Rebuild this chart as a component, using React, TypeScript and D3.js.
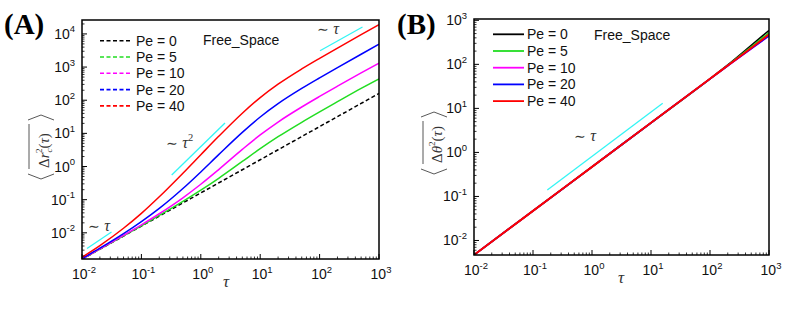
import React from 'react';
import * as d3 from 'd3';

// ---------- DATA ----------
const tauA = [0.01, 0.02, 0.05, 0.1, 0.2, 0.5, 1, 2, 5, 10, 20, 50, 100, 200, 500, 1000];
const msdPe0 = [0.0016, 0.0032, 0.008, 0.016, 0.032, 0.08, 0.16, 0.32, 0.8, 1.6, 3.2, 8, 16, 32, 80, 160];
const msdPe5 = [0.0016, 0.00321, 0.00809, 0.01635, 0.0334, 0.0886, 0.193, 0.442, 1.42, 3.44, 7.91, 21.6, 44.5, 90.1, 227, 440];
const msdPe10 = [0.00161, 0.00326, 0.00836, 0.0174, 0.0376, 0.114, 0.292, 0.809, 3.28, 8.98, 22.0, 62.4, 130, 265, 669, 1320];
const msdPe20 = [0.00166, 0.00343, 0.00942, 0.0217, 0.0544, 0.217, 0.687, 2.28, 10.7, 31.1, 78.6, 226, 471, 962, 2435, 4890];
const msdPe40 = [0.00183, 0.00411, 0.0137, 0.0386, 0.122, 0.628, 2.27, 8.14, 40.5, 120, 305, 879, 1837, 3753, 9501, 19000];

const tauB = [0.01, 0.1, 1, 10, 100, 200, 500, 1000];
const thetaPe0 = [0.0047, 0.047, 0.47, 4.7, 47, 97, 270, 590];
const thetaPe5 = [0.0047, 0.047, 0.47, 4.7, 47, 95, 250, 525];
const thetaPe10 = [0.0047, 0.047, 0.47, 4.7, 47, 93, 225, 440];
const thetaPe20 = [0.0047, 0.047, 0.47, 4.7, 47, 93, 228, 445];
const thetaPe40 = [0.0047, 0.047, 0.47, 4.7, 47, 94, 235, 480];

const peLabels = ['Pe = 0', 'Pe = 5', 'Pe = 10', 'Pe = 20', 'Pe = 40'];
const seriesColors = ['#000000', '#22dd22', '#ff00ff', '#0000ff', '#ff0000'];
const xTickExps = [-2, -1, 0, 1, 2, 3];
const yTickExpsA = [-2, -1, 0, 1, 2, 3, 4];
const yTickExpsB = [-2, -1, 0, 1, 2, 3];

const SANS = 'Liberation Sans, Arial, sans-serif';
const SERIF = 'Liberation Serif, Times New Roman, serif';

type Box = { l: number; r: number; t: number; b: number };

function minorTicks(domain: [number, number]) {
  const out: number[] = [];
  const lo = Math.floor(Math.log10(domain[0]));
  const hi = Math.ceil(Math.log10(domain[1]));
  for (let e = lo; e <= hi; e++) {
    for (let k = 2; k <= 9; k++) {
      const v = k * Math.pow(10, e);
      if (v > domain[0] && v < domain[1]) out.push(v);
    }
  }
  return out;
}

function Axes({ box, x, y, yExps }: any) {
  const xd = x.domain() as [number, number];
  const yd = y.domain() as [number, number];
  return (
    <g>
      {xTickExps.map((e) => {
        const px = x(Math.pow(10, e));
        return (
          <g key={'xt' + e}>
            <line x1={px} x2={px} y1={box.b} y2={box.b - 5} stroke="#000" strokeWidth={1} />
            <text x={px + 2} y={box.b + 20} textAnchor="middle" fontFamily={SANS} fontSize={14} fill="#111">
              10<tspan dy={-6.5} fontSize={9.5}>{e}</tspan>
            </text>
          </g>
        );
      })}
      {minorTicks(xd).map((v, i) => (
        <line key={'xm' + i} x1={x(v)} x2={x(v)} y1={box.b} y2={box.b - 2.5} stroke="#000" strokeWidth={0.8} />
      ))}
      {yExps.map((e: number) => {
        const py = y(Math.pow(10, e));
        return (
          <g key={'yt' + e}>
            <line x1={box.l} x2={box.l + 5} y1={py} y2={py} stroke="#000" strokeWidth={1} />
            <text x={box.l - 7} y={py + 5} textAnchor="end" fontFamily={SANS} fontSize={14} fill="#111">
              10<tspan dy={-6.5} fontSize={9.5}>{e}</tspan>
            </text>
          </g>
        );
      })}
      {minorTicks(yd).map((v, i) => (
        <line key={'ym' + i} x1={box.l} x2={box.l + 2.5} y1={y(v)} y2={y(v)} stroke="#000" strokeWidth={0.8} />
      ))}
      <rect x={box.l} y={box.t} width={box.r - box.l} height={box.b - box.t} fill="none" stroke="#000" strokeWidth={1.5} />
    </g>
  );
}

export default function App() {
  const boxA: Box = { l: 82, r: 379, t: 20, b: 259 };
  const xA = d3.scaleLog().domain([0.01, 1000]).range([boxA.l, boxA.r]);
  const yA = d3.scaleLog().domain([Math.pow(10, -2.79), Math.pow(10, 4.42)]).range([boxA.b, boxA.t]);
  const seriesA = [msdPe0, msdPe5, msdPe10, msdPe20, msdPe40];
  const lineA = d3
    .line<number>()
    .x((_, i) => xA(tauA[i]))
    .y((d) => yA(d))
    .curve(d3.curveMonotoneX);

  const boxB: Box = { l: 474, r: 769, t: 19, b: 255 };
  const xB = d3.scaleLog().domain([0.01, 1000]).range([boxB.l, boxB.r]);
  const yB = d3.scaleLog().domain([Math.pow(10, -2.33), Math.pow(10, 3.03)]).range([boxB.b, boxB.t]);
  const seriesB = [thetaPe0, thetaPe5, thetaPe10, thetaPe20, thetaPe40];
  const lineB = d3
    .line<number>()
    .x((_, i) => xB(tauB[i]))
    .y((d) => yB(d))
    .curve(d3.curveMonotoneX);

  const cyan = '#33f5f5';

  return (
    <svg width={789} height={309} style={{ position: 'absolute', left: 0, top: 0, background: '#fff' }}>
      <defs>
        <clipPath id="clipA">
          <rect x={boxA.l} y={boxA.t} width={boxA.r - boxA.l} height={boxA.b - boxA.t} />
        </clipPath>
        <clipPath id="clipB">
          <rect x={boxB.l} y={boxB.t} width={boxB.r - boxB.l} height={boxB.b - boxB.t} />
        </clipPath>
      </defs>

      {/* ---------- Panel A ---------- */}
      <text x={4} y={34} fontFamily={SERIF} fontWeight="bold" fontSize={29} fill="#000">(A)</text>
      <g clipPath="url(#clipA)">
        {seriesA.map((s, i) => (
          <path
            key={'a' + i}
            d={lineA(s) || ''}
            fill="none"
            stroke={seriesColors[i]}
            strokeWidth={1.5}
            strokeDasharray={i === 0 ? '4,2.5' : undefined}
          />
        ))}
      </g>
      <line x1={87} y1={248.5} x2={111.5} y2={232} stroke={cyan} strokeWidth={1.3} />
      <line x1={171.7} y1={175} x2={225} y2={123} stroke={cyan} strokeWidth={1.3} />
      <line x1={320} y1={50.7} x2={362.5} y2={27} stroke={cyan} strokeWidth={1.3} />
      <text x={88} y={231} fontFamily="DejaVu Serif, serif" fontSize={14} fill="#333">∼ <tspan fontFamily={SERIF} fontStyle="italic" fontSize={16}>τ</tspan></text>
      <text x={166} y={148} fontFamily="DejaVu Serif, serif" fontSize={14} fill="#333">∼ <tspan fontFamily={SERIF} fontStyle="italic" fontSize={16}>τ</tspan><tspan fontFamily={SERIF} fontSize={10.5} dy={-7}>2</tspan></text>
      <text x={317} y={34} fontFamily="DejaVu Serif, serif" fontSize={14} fill="#333">∼ <tspan fontFamily={SERIF} fontStyle="italic" fontSize={16}>τ</tspan></text>
      <Axes box={boxA} x={xA} y={yA} yExps={yTickExpsA} />
      {peLabels.map((lab, i) => {
        const yy = 40.7 + i * 16.3;
        return (
          <g key={'la' + i}>
            <line x1={100} x2={130} y1={yy} y2={yy} stroke={seriesColors[i]} strokeWidth={1.6} strokeDasharray="4,2.5" />
            <text x={136} y={yy + 5} fontFamily={SANS} fontSize={14} fill="#111">{lab}</text>
          </g>
        );
      })}
      <text x={203} y={45} fontFamily={SANS} fontSize={14} fill="#111">Free_Space</text>
      <g transform="translate(49,147) rotate(-90)">
        <polyline points="-27,-21 -32,-8 -27,5" fill="none" stroke="#444" strokeWidth={0.9} />
        <polyline points="27,-21 32,-8 27,5" fill="none" stroke="#444" strokeWidth={0.9} />
        <line x1={-22} x2={23} y1={-20} y2={-20} stroke="#444" strokeWidth={0.9} />
        <text x={-21} y={0} fontFamily={SERIF} fontSize={15} fill="#333">
          Δ<tspan fontStyle="italic">r</tspan>
          <tspan fontStyle="italic" fontSize={9} dy={3}>c</tspan>
          <tspan fontSize={9} dx={-4.5} dy={-10}>2</tspan>
          <tspan dy={7}>(</tspan>
          <tspan fontStyle="italic">τ</tspan>)
        </text>
      </g>
      <text x={226} y={287} textAnchor="middle" fontFamily={SERIF} fontStyle="italic" fontSize={17} fill="#333">τ</text>

      {/* ---------- Panel B ---------- */}
      <text x={397} y={34} fontFamily={SERIF} fontWeight="bold" fontSize={29} fill="#000">(B)</text>
      <g clipPath="url(#clipB)">
        {seriesB.map((s, i) => (
          <path key={'b' + i} d={lineB(s) || ''} fill="none" stroke={seriesColors[i]} strokeWidth={i === 4 ? 2 : 1.6} />
        ))}
      </g>
      <line x1={547.3} y1={190} x2={662.7} y2={103.3} stroke={cyan} strokeWidth={1.3} />
      <text x={574} y={141} fontFamily="DejaVu Serif, serif" fontSize={14} fill="#333">∼ <tspan fontFamily={SERIF} fontStyle="italic" fontSize={16}>τ</tspan></text>
      <Axes box={boxB} x={xB} y={yB} yExps={yTickExpsB} />
      {peLabels.map((lab, i) => {
        const yy = 34.3 + i * 16.7;
        return (
          <g key={'lb' + i}>
            <line x1={493} x2={524} y1={yy} y2={yy} stroke={seriesColors[i]} strokeWidth={1.8} />
            <text x={527} y={yy + 5} fontFamily={SANS} fontSize={14} fill="#111">{lab}</text>
          </g>
        );
      })}
      <text x={594} y={40} fontFamily={SANS} fontSize={14} fill="#111">Free_Space</text>
      <g transform="translate(442,143) rotate(-90)">
        <polyline points="-26,-21 -31,-8 -26,5" fill="none" stroke="#444" strokeWidth={0.9} />
        <polyline points="26,-21 31,-8 26,5" fill="none" stroke="#444" strokeWidth={0.9} />
        <line x1={-21} x2={22} y1={-19} y2={-19} stroke="#444" strokeWidth={0.9} />
        <text x={-20} y={0} fontFamily={SERIF} fontSize={15} fill="#333">
          Δ<tspan fontStyle="italic">θ</tspan>
          <tspan fontSize={9} dy={-7}>2</tspan>
          <tspan dy={7}>(</tspan>
          <tspan fontStyle="italic">τ</tspan>)
        </text>
      </g>
      <text x={621} y={283} textAnchor="middle" fontFamily={SERIF} fontStyle="italic" fontSize={17} fill="#333">τ</text>
    </svg>
  );
}
